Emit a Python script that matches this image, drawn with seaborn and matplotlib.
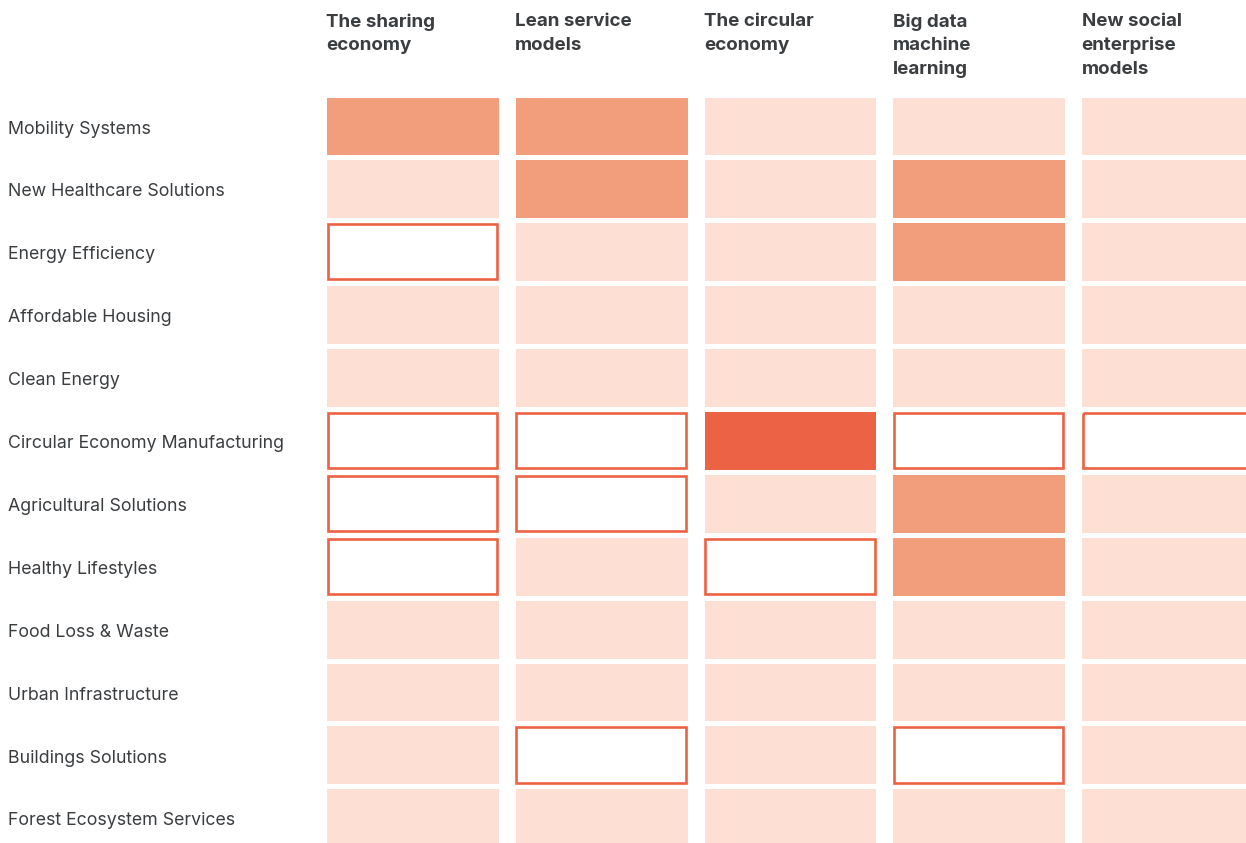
import matplotlib
matplotlib.use("Agg")
import matplotlib.pyplot as plt
from matplotlib.colors import ListedColormap
from matplotlib.patches import Rectangle
import matplotlib.transforms as mtransforms
import seaborn as sns
import pandas as pd
import numpy as np

# 0 = highlighted (outlined, white), 1 = light, 2 = medium, 3 = strong
solutions = [
    "Mobility Systems", "New Healthcare Solutions", "Energy Efficiency",
    "Affordable Housing", "Clean Energy", "Circular Economy Manufacturing",
    "Agricultural Solutions", "Healthy Lifestyles", "Food Loss & Waste",
    "Urban Infrastructure", "Buildings Solutions", "Forest Ecosystem Services",
]
models = [
    "The sharing\neconomy", "Lean service\nmodels", "The circular\neconomy",
    "Big data\nmachine\nlearning", "New social\nenterprise\nmodels",
]
sharing_economy = [2, 1, 0, 1, 1, 0, 0, 0, 1, 1, 1, 1]
lean_service = [2, 2, 1, 1, 1, 0, 0, 1, 1, 1, 0, 1]
circular_economy = [1, 1, 1, 1, 1, 3, 1, 0, 1, 1, 1, 1]
big_data = [1, 2, 2, 1, 1, 0, 2, 2, 1, 1, 0, 1]
social_enterprise = [1, 1, 1, 1, 1, 0, 1, 1, 1, 1, 1, 1]

df = pd.DataFrame(
    np.column_stack([sharing_economy, lean_service, circular_economy, big_data, social_enterprise]),
    index=solutions, columns=models,
)

colors = ["#ffffff", "#fddfd3", "#f29e7c", "#ec6244"]
edge_color = "#ec6244"
text_color = "#3b3e41"

W, H = 1246, 843
fig = plt.figure(figsize=(W / 100, H / 100), dpi=100)
col_pitch, row_pitch = 188.75, 62.9
left_px, top_px = 318.0, 94.5
ax = fig.add_axes([left_px / W, 1 - (top_px + 12 * row_pitch) / H,
                   5 * col_pitch / W, 12 * row_pitch / H])

sns.heatmap(df, cmap=ListedColormap(colors), vmin=-0.5, vmax=3.5, cbar=False,
            linewidths=0, ax=ax, xticklabels=False, yticklabels=False)

# gaps between cells (wide between columns, narrow between rows)
for x in range(6):
    ax.axvline(x, color="white", lw=17 * 0.72, zorder=3)
for y in range(13):
    ax.axhline(y, color="white", lw=5 * 0.72, zorder=3)

# outlined cells
gx = 8.5 / col_pitch
gy = 2.5 / row_pitch
for r, name in enumerate(solutions):
    for c, model in enumerate(models):
        if df.loc[name, model] == 0:
            ax.add_patch(Rectangle((c + gx + 0.006, r + gy + 0.02), 1 - 2 * gx - 0.012, 1 - 2 * gy - 0.04,
                                   fill=False, ec=edge_color, lw=1.9, zorder=4, clip_on=False))

font = ["Inter", "DejaVu Sans"]
# row labels
trans = mtransforms.blended_transform_factory(fig.transFigure, ax.transData)
for r, name in enumerate(solutions):
    ax.text(8 / W, r + 0.55, name, transform=trans, ha="left", va="center",
            fontsize=12.8, color=text_color, family=font)

# column headers
trans2 = mtransforms.blended_transform_factory(ax.transData, fig.transFigure)
for c, model in enumerate(models):
    ax.text(c + gx, 1 - 13.5 / H, model, transform=trans2, ha="left", va="top",
            fontsize=13.5, fontweight="bold", color=text_color, family=font, linespacing=1.48)

ax.set_xlabel("")
ax.set_ylabel("")
for s in ax.spines.values():
    s.set_visible(False)

fig.savefig("out.png", dpi=100)
